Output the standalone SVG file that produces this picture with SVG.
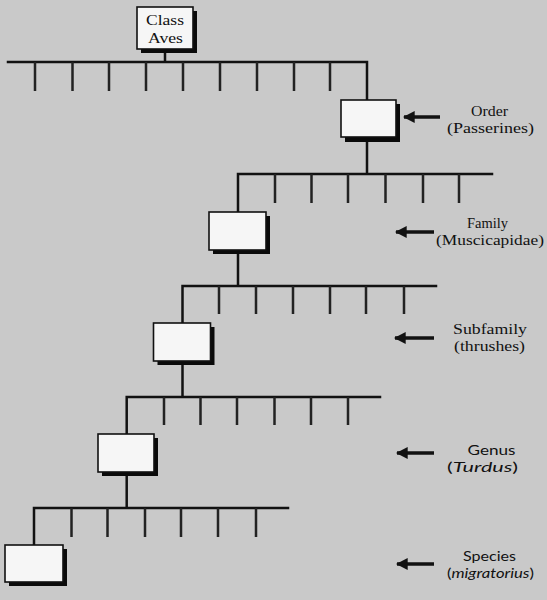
<svg xmlns="http://www.w3.org/2000/svg" width="547" height="600" viewBox="0 0 547 600">
<defs>
<style>
.ln{stroke:#111;stroke-width:2.5;fill:none;stroke-linecap:square}
.tk{stroke:#222;stroke-width:2.5;fill:none}
.box{fill:#f6f6f6;stroke:#111;stroke-width:1.6}
.sh{fill:#0a0a0a}
.ar{stroke:#111;stroke-width:3.5;fill:none}
.lb{font-family:"Liberation Serif",serif;font-size:14px;fill:#111;text-anchor:middle}
.lb2{font-family:Lato,"Open Sans",sans-serif;font-size:13.5px;fill:#111;text-anchor:middle}
</style>
<marker id="ah" viewBox="0 0 10 10" refX="9" refY="5" markerWidth="3.4" markerHeight="3.4" orient="auto" markerUnits="strokeWidth">
<path d="M0,0 L10,5 L0,10 Z" fill="#111"/>
</marker>
</defs>
<rect width="547" height="600" fill="#c9c9c9"/>
<g id="connectors">
<path class="ln" d="M165,49 V62 M8,62 H367 V100 M367,137 V174 M238,174 H492 M238,174 V212 M238,250 V286 M182.5,286 H436 M182.5,286 V323 M182.5,361 V397 M126.7,397 H380 M126.7,397 V434 M126.7,472 V508 M34,508 H288 M34,508 V545"/>
<path class="tk" d="M35,62 V91 M72.5,62 V91 M109,62 V91 M146,62 V91 M183,62 V91 M220,62 V91 M257,62 V91 M294,62 V91 M330,62 V91"/>
<path class="tk" d="M275,174 V203 M311.5,174 V203 M348,174 V203 M385.5,174 V203 M423,174 V203 M459,174 V203"/>
<path class="tk" d="M219,286 V314 M256,286 V314 M293,286 V314 M330,286 V314 M366,286 V314 M404,286 V314"/>
<path class="tk" d="M164,397 V425 M200.5,397 V425 M237,397 V425 M274.5,397 V425 M311,397 V425 M348,397 V425"/>
<path class="tk" d="M71.5,508 V537 M107.5,508 V537 M145,508 V537 M181,508 V537 M218,508 V537 M256,508 V537"/>
<path class="ar" marker-end="url(#ah)" d="M440,117 H404"/>
<path class="ar" marker-end="url(#ah)" d="M434,232 H396"/>
<path class="ar" marker-end="url(#ah)" d="M434,338 H395"/>
<path class="ar" marker-end="url(#ah)" d="M434,453 H397"/>
<path class="ar" marker-end="url(#ah)" d="M434,564 H397"/>
</g>
<g id="class">
<rect class="sh" x="141" y="11" width="56" height="42"/>
<rect class="box" x="137" y="7" width="56" height="42"/>
<text class="lb" x="165" y="25" textLength="38" lengthAdjust="spacingAndGlyphs">Class</text>
<text class="lb" x="165.5" y="43" textLength="35" lengthAdjust="spacingAndGlyphs">Aves</text>
</g>
<g id="order">
<rect class="sh" x="345" y="104" width="55" height="38"/>
<rect class="box" x="341" y="100" width="55" height="37"/>
<text class="lb" x="489.5" y="116" textLength="37" lengthAdjust="spacingAndGlyphs">Order</text>
<text class="lb" x="490.5" y="133" textLength="87" lengthAdjust="spacingAndGlyphs">(Passerines)</text>
</g>
<g id="family">
<rect class="sh" x="213" y="216" width="57" height="38"/>
<rect class="box" x="209" y="212" width="57" height="38"/>
<text class="lb" x="487.5" y="228" textLength="41" lengthAdjust="spacingAndGlyphs">Family</text>
<text class="lb" x="490" y="245" textLength="108" lengthAdjust="spacingAndGlyphs">(Muscicapidae)</text>
</g>
<g id="subfamily">
<rect class="sh" x="157.5" y="327" width="57" height="38"/>
<rect class="box" x="153.5" y="323" width="57" height="38"/>
<text class="lb" x="490" y="334" textLength="74" lengthAdjust="spacingAndGlyphs">Subfamily</text>
<text class="lb" x="489.5" y="351" textLength="71" lengthAdjust="spacingAndGlyphs">(thrushes)</text>
</g>
<g id="genus">
<rect class="sh" x="102" y="438" width="56" height="38"/>
<rect class="box" x="98" y="434" width="56" height="38"/>
<text class="lb2" x="491.5" y="455" textLength="48" lengthAdjust="spacingAndGlyphs">Genus</text>
<text class="lb2" x="482.5" y="472" textLength="71" lengthAdjust="spacingAndGlyphs">(<tspan font-style="italic">Turdus</tspan>)</text>
</g>
<g id="species">
<rect class="sh" x="9" y="549" width="58" height="37"/>
<rect class="box" x="5" y="545" width="58" height="37"/>
<text class="lb2" x="489.5" y="561" textLength="53" lengthAdjust="spacingAndGlyphs">Species</text>
<text class="lb2" x="490.5" y="578" textLength="87" lengthAdjust="spacingAndGlyphs">(<tspan font-style="italic">migratorius</tspan>)</text>
</g>
</svg>
